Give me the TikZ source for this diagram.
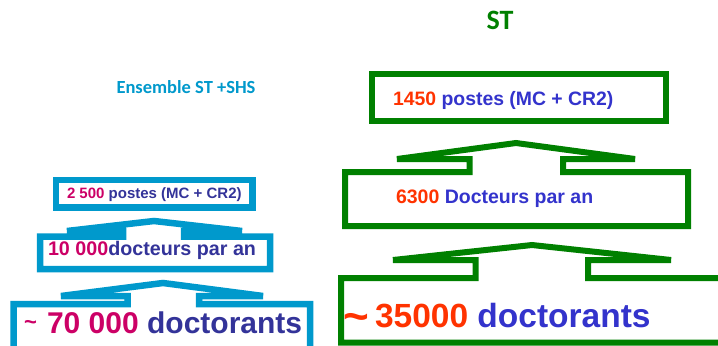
\documentclass[tikz,border=0pt]{standalone}
\usepackage{fontspec}
\newfontfamily\arialf{Liberation Sans}
\newfontfamily\calibf{Carlito}
\definecolor{cyanbox}{HTML}{0099CC}
\definecolor{magnum}{HTML}{CC0066}
\definecolor{lblue}{HTML}{333399}
\definecolor{gbox}{HTML}{008000}
\definecolor{rnum}{HTML}{FF3300}
\definecolor{rblue}{HTML}{3333CC}
\tikzset{
  cyanshape/.style={draw=cyanbox, line width=6.5bp, fill=white, line join=miter},
  greenshape/.style={draw=gbox, line width=6bp, fill=white, line join=miter},
  txt/.style={anchor=base west, inner sep=0pt, outer sep=0pt},
  ttl/.style={anchor=base, inner sep=0pt, outer sep=0pt}
}
\newcommand{\fsz}[1]{\fontsize{#1bp}{#1bp}\selectfont}
\begin{document}
\begin{tikzpicture}[x=1bp,y=-1bp]
\useasboundingbox (0,0) rectangle (718,345);
\fill[white] (0,0) rectangle (718,345);
\clip (0,0) rectangle (718,345);
% ---- left (cyan) ----
\draw[cyanshape] (56,180) rectangle (252.5,207.5);
\draw[cyanshape] (67,231) -- (154,221) -- (242,231) -- (184,231) -- (184,236.5)
  -- (270,236.5) -- (270,269) -- (40,269) -- (40,236.5) -- (123,236.5) -- (123,231) -- cycle;
\draw[cyanshape] (61,296) -- (163,283) -- (263,296) -- (199,296) -- (199,304)
  -- (310,304) -- (310,350) -- (13.5,350) -- (13.5,304) -- (127.5,304) -- (127.5,296) -- cycle;
% ---- right (green) ----
\draw[greenshape] (372,74) rectangle (666,121);
\draw[greenshape] (397,159) -- (516,143) -- (635,159) -- (563,159) -- (563,172)
  -- (688,172) -- (688,226) -- (345,226) -- (345,172) -- (469.5,172) -- (469.5,159) -- cycle;
\draw[greenshape] (393,260) -- (532,245) -- (671,260) -- (588,260) -- (588,278)
  -- (730,278) -- (730,342.5) -- (341,342.5) -- (341,278) -- (475.5,278) -- (475.5,260) -- cycle;
% ---- titles ----
\node[ttl] (st) at (500,29) {\calibf\bfseries\fsz{28}\color{gbox}ST};
\node[ttl] (ens) at (186,93) {\calibf\bfseries\fsz{18.5}\color{cyanbox}Ensemble ST +SHS};
% ---- left texts ----
\node[txt] (l1) at (67,198) {\arialf\bfseries\fsz{15}{\color{magnum}2 500} {\color{lblue}postes (MC + CR2)}};
\node[txt] (l2) at (48,255) {\arialf\bfseries\fsz{19.7}{\color{magnum}10 000}{\color{lblue}docteurs par an}};
\node[txt] (l3t) at (24,329) {\arialf\bfseries\fsz{22}\color{magnum}\char`\~};
\node[txt] (l3) at (47,333) {\arialf\bfseries\fsz{30}{\color{magnum}70 000} {\color{lblue}doctorants}};
% ---- right texts ----
\node[txt] (r1) at (393,105) {\arialf\bfseries\fsz{19.4}{\color{rnum}1450} {\color{rblue}postes (MC + CR2)}};
\node[txt] (r2) at (396,203) {\arialf\bfseries\fsz{19.5}{\color{rnum}6300} {\color{rblue}Docteurs par an}};
\node[txt] (r3t) at (343,331) {\arialf\bfseries\fsz{44}\color{rnum}\char`\~};
\node[txt] (r3) at (375,327) {\arialf\bfseries\fsz{33.5}{\color{rnum}35000} {\color{rblue}doctorants}};
\end{tikzpicture}
\end{document}
